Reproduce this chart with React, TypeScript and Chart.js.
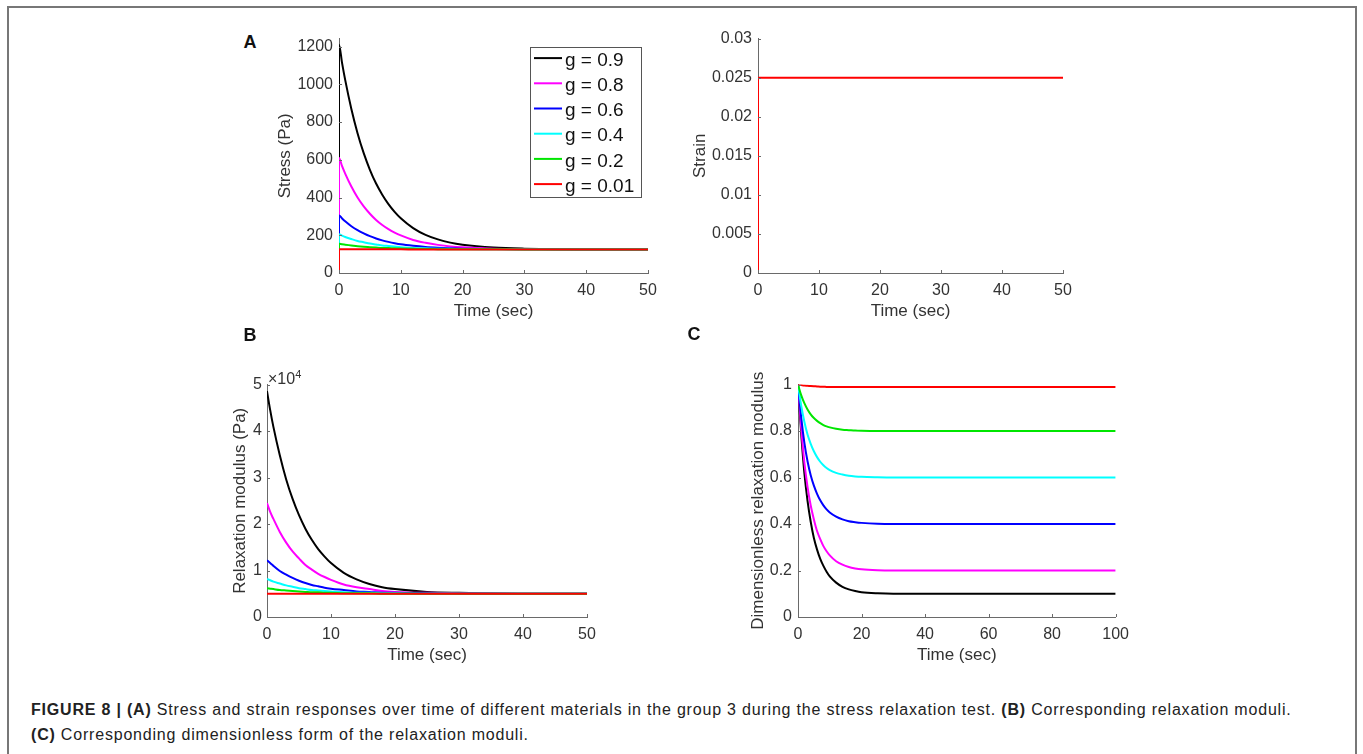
import React, { useEffect, useRef } from "react";
import { Chart, registerables } from "chart.js";

Chart.register(...registerables);

// ---------------- data ----------------
const SERIES_LABELS = ["g = 0.9", "g = 0.8", "g = 0.6", "g = 0.4", "g = 0.2", "g = 0.01"];
const SERIES_COLORS = ["#000000", "#ff00ff", "#0000ff", "#00ffff", "#00e600", "#ff0000"];

// Panel A: stress (Pa) vs time (sec)
const TIME_A = [0, 0, 0.5, 1, 2, 3, 4, 5, 6, 7, 8, 9, 10, 12, 14, 16, 18, 20, 25, 30, 40, 50];
const STRESS_G09 = [0, 1210, 1112, 1023, 869, 741, 635, 547, 474, 415, 365, 324, 290, 238, 202, 178, 161, 150, 135, 129, 125, 125];
const STRESS_G08 = [0, 610, 566, 527, 458, 400, 353, 314, 281, 254, 232, 214, 199, 175, 160, 149, 141, 136, 129, 127, 125, 125];
const STRESS_G06 = [0, 305, 289, 274, 248, 227, 210, 195, 183, 173, 165, 158, 152, 144, 138, 134, 131, 129, 127, 126, 125, 125];
const STRESS_G04 = [0, 205, 198, 191, 180, 170, 163, 156, 151, 146, 143, 140, 137, 133, 131, 129, 128, 127, 126, 125, 125, 125];
const STRESS_G02 = [0, 155, 152, 150, 146, 142, 139, 137, 135, 133, 132, 130.5, 129.5, 128, 127, 126.5, 126, 125.7, 125.3, 125, 125, 125];
const STRESS_G001 = [0, 126, 126, 126, 125.9, 125.8, 125.7, 125.6, 125.5, 125.4, 125.3, 125.2, 125.2, 125.1, 125.1, 125, 125, 125, 125, 125, 125, 125];

// Panel A (right): strain vs time
const STRAIN_TIME = [0, 0, 50];
const STRAIN_VALUES = [0, 0.025, 0.025];

// Panel B: relaxation modulus (Pa) vs time (sec)
const TIME_B = [0, 0.5, 1, 2, 3, 4, 5, 6, 7, 8, 9, 10, 12, 14, 16, 18, 20, 25, 30, 40, 50];
const MODULUS_G09 = [48600, 44500, 40900, 34800, 29600, 25400, 21900, 19000, 16600, 14600, 13000, 11600, 9500, 8100, 7100, 6400, 6000, 5400, 5200, 5000, 5000];
const MODULUS_G08 = [24500, 22600, 21100, 18300, 16000, 14100, 12600, 11200, 10200, 9300, 8600, 8000, 7000, 6400, 6000, 5600, 5400, 5200, 5100, 5000, 5000];
const MODULUS_G06 = [12200, 11600, 11000, 9900, 9100, 8400, 7800, 7300, 6900, 6600, 6300, 6100, 5800, 5500, 5400, 5200, 5200, 5100, 5000, 5000, 5000];
const MODULUS_G04 = [8200, 7900, 7600, 7200, 6800, 6500, 6200, 6000, 5800, 5700, 5600, 5500, 5300, 5200, 5200, 5100, 5100, 5000, 5000, 5000, 5000];
const MODULUS_G02 = [6200, 6100, 6000, 5800, 5700, 5600, 5500, 5400, 5300, 5300, 5200, 5200, 5100, 5100, 5100, 5000, 5000, 5000, 5000, 5000, 5000];
const MODULUS_G001 = [5000, 5000, 5000, 5000, 5000, 5000, 5000, 5000, 5000, 5000, 5000, 5000, 5000, 5000, 5000, 5000, 5000, 5000, 5000, 5000, 5000];

// Panel C: dimensionless relaxation modulus vs time (sec)
const TIME_C = [0, 1, 2, 3, 4, 5, 6, 7, 8, 9, 10, 12, 14, 16, 18, 20, 25, 30, 40, 60, 80, 100];
const DIMLESS_G09 = [1, 0.79, 0.62, 0.5, 0.41, 0.34, 0.29, 0.25, 0.22, 0.195, 0.175, 0.148, 0.13, 0.119, 0.112, 0.107, 0.102, 0.1, 0.1, 0.1, 0.1, 0.1];
const DIMLESS_G08 = [1, 0.815, 0.665, 0.56, 0.48, 0.42, 0.37, 0.335, 0.305, 0.283, 0.265, 0.24, 0.225, 0.215, 0.209, 0.205, 0.201, 0.2, 0.2, 0.2, 0.2, 0.2];
const DIMLESS_G06 = [1, 0.86, 0.75, 0.67, 0.61, 0.565, 0.53, 0.502, 0.48, 0.463, 0.45, 0.432, 0.42, 0.412, 0.408, 0.405, 0.401, 0.4, 0.4, 0.4, 0.4, 0.4];
const DIMLESS_G04 = [1, 0.91, 0.84, 0.785, 0.745, 0.713, 0.688, 0.668, 0.653, 0.641, 0.632, 0.62, 0.613, 0.608, 0.605, 0.603, 0.601, 0.6, 0.6, 0.6, 0.6, 0.6];
const DIMLESS_G02 = [1, 0.955, 0.92, 0.893, 0.872, 0.856, 0.844, 0.834, 0.826, 0.82, 0.816, 0.81, 0.806, 0.804, 0.802, 0.801, 0.8, 0.8, 0.8, 0.8, 0.8, 0.8];
const DIMLESS_G001 = [1, 0.998, 0.996, 0.995, 0.994, 0.993, 0.992, 0.991, 0.991, 0.99, 0.99, 0.99, 0.99, 0.99, 0.99, 0.99, 0.99, 0.99, 0.99, 0.99, 0.99, 0.99];

// Tick values / labels
const X_TICKS_50 = [0, 10, 20, 30, 40, 50];
const X_LABELS_50 = ["0", "10", "20", "30", "40", "50"];
const X_TICKS_100 = [0, 20, 40, 60, 80, 100];
const X_LABELS_100 = ["0", "20", "40", "60", "80", "100"];
const STRESS_TICKS = [0, 200, 400, 600, 800, 1000, 1200];
const STRESS_LABELS = ["0", "200", "400", "600", "800", "1000", "1200"];
const STRAIN_TICKS = [0, 0.005, 0.01, 0.015, 0.02, 0.025, 0.03];
const STRAIN_LABELS = ["0", "0.005", "0.01", "0.015", "0.02", "0.025", "0.03"];
const MODULUS_TICKS = [0, 10000, 20000, 30000, 40000, 50000];
const MODULUS_LABELS = ["0", "1", "2", "3", "4", "5"];
const DIMLESS_TICKS = [0, 0.2, 0.4, 0.6, 0.8, 1];
const DIMLESS_LABELS = ["0", "0.2", "0.4", "0.6", "0.8", "1"];

const CAPTION_LINE1_BOLD = "FIGURE 8 | (A)";
const CAPTION_LINE1_A = " Stress and strain responses over time of different materials in the group 3 during the stress relaxation test. ";
const CAPTION_LINE1_B_BOLD = "(B)";
const CAPTION_LINE1_B = " Corresponding relaxation moduli.";
const CAPTION_LINE2_BOLD = "(C)";
const CAPTION_LINE2 = " Corresponding dimensionless form of the relaxation moduli.";

// ---------------- styling ----------------
const FONT = "'Liberation Sans', Arial, Helvetica, sans-serif";
const AXIS_COLOR = "#6a6a6a";
const TEXT_COLOR = "#333333";

function linearAxis(o: {
  min: number; max: number; ticks: number[]; labels: string[]; title: string;
  size: number; pad: number; horizontal: boolean;
}) {
  return {
    type: "linear",
    min: o.min,
    max: o.max,
    afterBuildTicks: (s: any) => { s.ticks = o.ticks.map((v) => ({ value: v })); },
    afterFit: (s: any) => { if (o.horizontal) s.height = o.size; else s.width = o.size; },
    grid: { display: false, drawTicks: false },
    border: { display: true, color: AXIS_COLOR, width: 1 },
    ticks: {
      padding: o.pad, color: TEXT_COLOR, font: { family: FONT, size: 16 },
      autoSkip: false, maxRotation: 0,
      callback: (_v: any, i: number) => o.labels[i],
    },
    title: {
      display: true, text: o.title, color: TEXT_COLOR,
      font: { family: FONT, size: 17 }, padding: { top: 4, bottom: 4 },
    },
  };
}

const inTicksPlugin = {
  id: "inTicks",
  afterDraw(chart: any) {
    const { ctx, chartArea, scales } = chart;
    const x = scales.x, y = scales.y;
    ctx.save();
    ctx.strokeStyle = AXIS_COLOR;
    ctx.lineWidth = 1;
    x.ticks.forEach((t: any) => {
      const px = Math.round(x.getPixelForValue(t.value)) + 0.5;
      ctx.beginPath();
      ctx.moveTo(px, chartArea.bottom);
      ctx.lineTo(px, chartArea.bottom - 3);
      ctx.stroke();
    });
    y.ticks.forEach((t: any) => {
      const py = Math.round(y.getPixelForValue(t.value)) + 0.5;
      ctx.beginPath();
      ctx.moveTo(chartArea.left, py);
      ctx.lineTo(chartArea.left + 3, py);
      ctx.stroke();
    });
    ctx.restore();
  },
};

const boxLegendPlugin = {
  id: "boxLegend",
  afterDraw(chart: any) {
    const { ctx, chartArea } = chart;
    const ds = chart.data.datasets;
    const w = 111, h = 150;
    const left = chartArea.right - 7 - w;
    const top = chartArea.top + 8;
    ctx.save();
    ctx.fillStyle = "#ffffff";
    ctx.fillRect(left, top, w, h);
    ctx.strokeStyle = "#555555";
    ctx.lineWidth = 1;
    ctx.strokeRect(Math.round(left) + 0.5, Math.round(top) + 0.5, w, h);
    ctx.font = `19px ${FONT}`;
    ctx.textBaseline = "middle";
    ctx.textAlign = "left";
    ds.forEach((d: any, i: number) => {
      const yy = top + 11.5 + i * 25.2;
      ctx.strokeStyle = d.borderColor;
      ctx.lineWidth = 2;
      ctx.beginPath();
      ctx.moveTo(left + 4, yy);
      ctx.lineTo(left + 32, yy);
      ctx.stroke();
      ctx.fillStyle = "#111111";
      ctx.fillText(d.label, left + 35, yy + 2.4);
    });
    ctx.restore();
  },
};

function makeDatasets(xs: number[], series: number[][], labels: string[], colors: string[]) {
  return series.map((ys, i) => ({
    label: labels[i],
    data: xs.map((x, j) => ({ x, y: ys[j] })),
    borderColor: colors[i],
    backgroundColor: colors[i],
    borderWidth: 2,
    pointRadius: 0,
    fill: false,
    cubicInterpolationMode: "monotone",
    order: series.length - 1 - i,
  }));
}

function baseOptions(padTop: number, padRight: number, x: any, y: any) {
  return {
    responsive: false,
    maintainAspectRatio: false,
    animation: false,
    devicePixelRatio: 1,
    layout: { padding: { top: padTop, right: padRight, left: 0, bottom: 0 } },
    plugins: { legend: { display: false }, tooltip: { enabled: false } },
    events: [],
    scales: { x, y },
  };
}

function ChartCanvas(props: { left: number; top: number; width: number; height: number; make: () => any }) {
  const ref = useRef<HTMLCanvasElement | null>(null);
  useEffect(() => {
    if (!ref.current) return;
    const chart = new Chart(ref.current, props.make());
    return () => chart.destroy();
  }, []);
  return (
    <canvas
      ref={ref}
      width={props.width}
      height={props.height}
      style={{ position: "absolute", left: props.left, top: props.top, width: props.width, height: props.height }}
    />
  );
}

const makeStress = () => ({
  type: "line",
  data: {
    datasets: makeDatasets(
      TIME_A,
      [STRESS_G09, STRESS_G08, STRESS_G06, STRESS_G04, STRESS_G02, STRESS_G001],
      SERIES_LABELS, SERIES_COLORS
    ),
  },
  options: baseOptions(
    12, 20,
    linearAxis({ min: 0, max: 50, ticks: X_TICKS_50, labels: X_LABELS_50, title: "Time (sec)", size: 53, pad: 8, horizontal: true }),
    linearAxis({ min: 0, max: 1242, ticks: STRESS_TICKS, labels: STRESS_LABELS, title: "Stress (Pa)", size: 68, pad: 6, horizontal: false })
  ),
  plugins: [inTicksPlugin, boxLegendPlugin],
});

const makeStrain = () => ({
  type: "line",
  data: {
    datasets: makeDatasets(STRAIN_TIME, [STRAIN_VALUES], ["Strain"], ["#ff0000"]),
  },
  options: baseOptions(
    12, 20,
    linearAxis({ min: 0, max: 50, ticks: X_TICKS_50, labels: X_LABELS_50, title: "Time (sec)", size: 53, pad: 8, horizontal: true }),
    linearAxis({ min: 0, max: 0.03, ticks: STRAIN_TICKS, labels: STRAIN_LABELS, title: "Strain", size: 72, pad: 6, horizontal: false })
  ),
  plugins: [inTicksPlugin],
});

const makeModulus = () => ({
  type: "line",
  data: {
    datasets: makeDatasets(
      TIME_B,
      [MODULUS_G09, MODULUS_G08, MODULUS_G06, MODULUS_G04, MODULUS_G02, MODULUS_G001],
      SERIES_LABELS, SERIES_COLORS
    ),
  },
  options: baseOptions(
    12, 20,
    linearAxis({ min: 0, max: 50, ticks: X_TICKS_50, labels: X_LABELS_50, title: "Time (sec)", size: 53, pad: 8, horizontal: true }),
    linearAxis({ min: 0, max: 50000, ticks: MODULUS_TICKS, labels: MODULUS_LABELS, title: "Relaxation modulus (Pa)", size: 41, pad: 5, horizontal: false })
  ),
  plugins: [inTicksPlugin],
});

const makeDimless = () => ({
  type: "line",
  data: {
    datasets: makeDatasets(
      TIME_C,
      [DIMLESS_G09, DIMLESS_G08, DIMLESS_G06, DIMLESS_G04, DIMLESS_G02, DIMLESS_G001],
      SERIES_LABELS, SERIES_COLORS
    ),
  },
  options: baseOptions(
    12, 20,
    linearAxis({ min: 0, max: 100, ticks: X_TICKS_100, labels: X_LABELS_100, title: "Time (sec)", size: 53, pad: 8, horizontal: true }),
    linearAxis({ min: 0, max: 1, ticks: DIMLESS_TICKS, labels: DIMLESS_LABELS, title: "Dimensionless relaxation modulus", size: 54, pad: 6, horizontal: false })
  ),
  plugins: [inTicksPlugin],
});

const letterStyle = (left: number, top: number): React.CSSProperties => ({
  position: "absolute", left, top, fontFamily: FONT, fontWeight: "bold",
  fontSize: 18, lineHeight: "18px", color: "#111",
});

export default function App() {
  return (
    <div style={{ position: "fixed", left: 0, top: 0, width: 1363, height: 754, background: "#fff", overflow: "hidden", fontFamily: FONT }}>
      <div style={{
        position: "absolute", left: 7, top: 6, width: 1350, height: 800,
        border: "2px solid #777", boxSizing: "border-box",
      }} />
      <ChartCanvas left={271} top={23} width={397} height={303} make={makeStress} />
      <ChartCanvas left={686} top={23} width={397} height={303} make={makeStrain} />
      <ChartCanvas left={226} top={370} width={381} height={300} make={makeModulus} />
      <ChartCanvas left={744} top={369} width={393} height={301} make={makeDimless} />

      <div style={letterStyle(243.5, 33)}>A</div>
      <div style={letterStyle(243.5, 326)}>B</div>
      <div style={letterStyle(687.5, 325)}>C</div>

      <div style={{ position: "absolute", left: 268, top: 371, fontFamily: FONT, fontSize: 16, lineHeight: "16px", color: TEXT_COLOR, whiteSpace: "nowrap" }}>
        ×10<sup style={{ fontSize: 11, verticalAlign: "6px", lineHeight: 0 }}>4</sup>
      </div>

      <div style={{ position: "absolute", left: 31, top: 697, fontFamily: FONT, fontSize: 16, lineHeight: "25px", letterSpacing: "0.8px", color: "#222", whiteSpace: "nowrap" }}>
        <div><b>{CAPTION_LINE1_BOLD}</b>{CAPTION_LINE1_A}<b>{CAPTION_LINE1_B_BOLD}</b>{CAPTION_LINE1_B}</div>
        <div><b>{CAPTION_LINE2_BOLD}</b>{CAPTION_LINE2}</div>
      </div>
    </div>
  );
}
